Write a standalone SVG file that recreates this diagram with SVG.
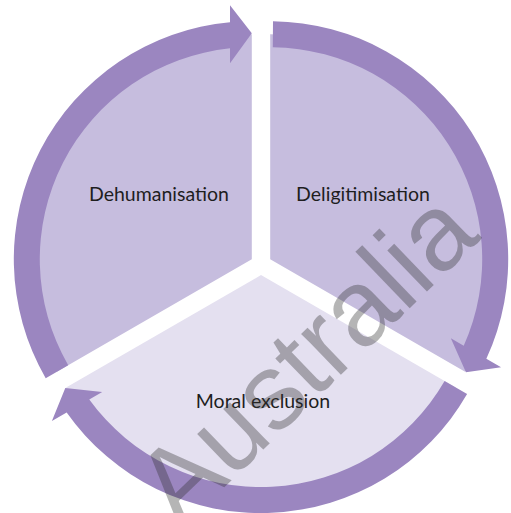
<svg xmlns="http://www.w3.org/2000/svg" width="511" height="513" viewBox="0 0 511 513">
  <style>
    .seg-dark { fill: #C6BDDE; }
    .seg-light { fill: #E4E0F0; }
    .band { fill: #9B86C0; }
    .label { font-family: "Lato", "Liberation Sans", sans-serif; font-size: 19.5px; fill: #1E1E1E; text-anchor: middle; }
    .mark { font-family: "Liberation Sans", sans-serif; font-size: 108px; fill: #333333; fill-opacity: 0.36; }
  </style>
  <rect width="511" height="513" fill="#FFFFFF"/>

  <!-- Wedge: Dehumanisation (apex 251.8,259.2; 150deg to 270deg) -->
  <g id="node-dehumanisation">
    <path class="seg-dark" d="M251.8 259.2 L56.9 371.7 A225 225 0 0 1 251.8 34.2 Z"/>
    <text class="label" x="159" y="201">Dehumanisation</text>
  </g>

  <!-- Wedge: Deligitimisation (apex 270.2,259.2; 270deg to 30deg) -->
  <g id="node-deligitimisation">
    <path class="seg-dark" d="M270.2 259.2 L270.2 34.2 A225 225 0 0 1 465.1 371.7 Z"/>
    <text class="label" x="363" y="201">Deligitimisation</text>
  </g>

  <!-- Wedge: Moral exclusion (apex 261,275.1; 30deg to 150deg) -->
  <g id="node-moral-exclusion">
    <path class="seg-light" d="M261 275.1 L455.9 387.6 A225 225 0 0 1 66.1 387.6 Z"/>
    <text class="label" x="263" y="408">Moral exclusion</text>
  </g>

  <!-- Curved arrows running clockwise around each wedge (band r 212..238, head ends at r 226) -->
  <g id="connectors">
    <!-- left arrow: 150deg to tip at 270deg -->
    <path class="band" d="M45.7 378.2 A238 238 0 0 1 230 22.2 L230 5.2 L251.8 33.2 L230 63.2 L230 48.3 A212 212 0 0 0 68.2 365.2 Z"/>
    <!-- right arrow: 270deg to tip at 30deg -->
    <path class="band" d="M273 21.2 A238 238 0 0 1 486.35 358.82 L501.06 367.32 L465.92 372.2 L450.84 338.32 L463.72 345.76 A212 212 0 0 0 272.8 47.2 Z"/>
    <!-- bottom arrow: 30deg to tip at 150deg -->
    <path class="band" d="M467.1 394.1 A238 238 0 0 1 66.65 412.48 L51.9 421 L65.3 388.1 L102.2 392 L89.28 399.42 A212 212 0 0 0 444.6 381.1 Z"/>
  </g>

  <text class="mark" transform="translate(180 530) rotate(-44)">Australia</text>
</svg>
